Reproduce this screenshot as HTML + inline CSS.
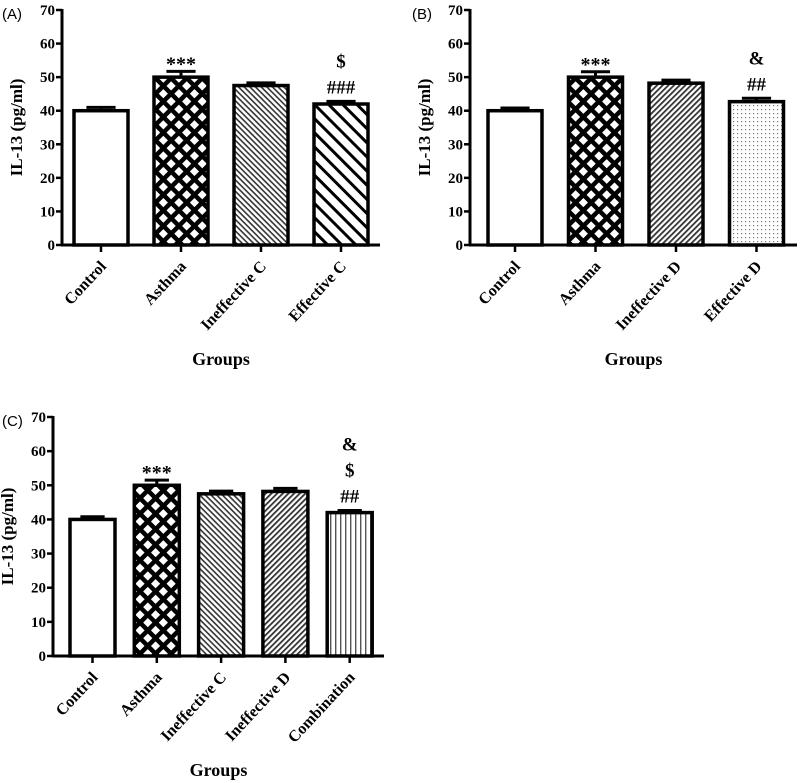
<!DOCTYPE html>
<html><head><meta charset="utf-8"><style>
html,body{margin:0;padding:0;background:#fff;}
svg{display:block;}
text{font-family:"Liberation Serif",serif;font-weight:bold;fill:#000;}
</style></head><body>
<svg id="chart" width="800" height="783" viewBox="0 0 800 783" xmlns="http://www.w3.org/2000/svg">
<defs>
<pattern id="p-cross" patternUnits="userSpaceOnUse" width="11" height="11" patternTransform="rotate(45)">
<rect width="11" height="11" fill="#000"/><rect x="2.5" y="2.5" width="6.5" height="6.5" fill="#fff"/></pattern>
<pattern id="p-dense-back" patternUnits="userSpaceOnUse" width="4" height="4" patternTransform="rotate(45)">
<rect width="4" height="4" fill="#fff"/><rect width="4" height="1.6" fill="#333"/></pattern>
<pattern id="p-wide-back" patternUnits="userSpaceOnUse" width="10" height="10" patternTransform="rotate(45)">
<rect width="10" height="10" fill="#fff"/><rect width="10" height="3" fill="#000"/></pattern>
<pattern id="p-dense-fwd" patternUnits="userSpaceOnUse" width="4" height="4" patternTransform="rotate(-45)">
<rect width="4" height="4" fill="#fff"/><rect width="4" height="1.8" fill="#333"/></pattern>
<pattern id="p-dots" patternUnits="userSpaceOnUse" width="4" height="4">
<rect width="4" height="4" fill="#fff"/><rect x="1" y="1" width="1.2" height="1.2" fill="#777"/></pattern>
<pattern id="p-vert" patternUnits="userSpaceOnUse" width="5" height="5">
<rect width="5" height="5" fill="#fff"/><rect width="1.4" height="5" fill="#555"/></pattern>
</defs>
</svg>
<script>
const yTicks=[0,10,20,30,40,50,60,70];
const catsA=["Control","Asthma","Ineffective C","Effective C"];
const valsA=[40,50,47.5,42];
const errsA=[1,1.7,0.8,0.8];
const notesA=[[],["***"],[],["###","$"]];
const fillsA=["#fff","url(#p-cross)","url(#p-dense-back)","url(#p-wide-back)"];
const catsB=["Control","Asthma","Ineffective D","Effective D"];
const valsB=[40,50,48.2,42.7];
const errsB=[0.8,1.6,0.9,1];
const notesB=[[],["***"],[],["##","&"]];
const fillsB=["#fff","url(#p-cross)","url(#p-dense-fwd)","url(#p-dots)"];
const catsC=["Control","Asthma","Ineffective C","Ineffective D","Combination"];
const valsC=[40,50,47.5,48.2,42];
const errsC=[0.8,1.5,0.8,0.9,0.6];
const notesC=[[],["***"],[],[],["##","$","&"]];
const fillsC=["#fff","url(#p-cross)","url(#p-dense-back)","url(#p-dense-fwd)","url(#p-vert)"];

const NS="http://www.w3.org/2000/svg";
const svg=document.getElementById('chart');
function mk(tag,attrs,parent){const e=document.createElementNS(NS,tag);for(const k in attrs)e.setAttribute(k,attrs[k]);(parent||svg).appendChild(e);return e;}

function panel(cfg,cats,vals,errs,notes,fills){
  const g=mk('g',{});
  
  
  const y=v=>cfg.y0-(v/70)*(cfg.y0-cfg.y70);
  const xc=i=>cfg.x0+i*cfg.pitch;
  const pl=mk('text',{x:cfg.lx,y:cfg.y70+9,'font-size':15,style:'font-family:"Liberation Sans",sans-serif;font-weight:normal'},g);
  pl.textContent='('+cfg.id.toUpperCase()+')';
  
  
  const yt=mk('text',{x:0,y:0,'font-size':17,'text-anchor':'middle',transform:`translate(${cfg.ax-40},${(cfg.y0+cfg.y70)/2}) rotate(-90)`},g);
  yt.textContent='IL-13 (pg/ml)';
  
  
  yTicks.forEach(t=>{
    const ln=mk('line',{x1:cfg.ax-6,x2:cfg.ax,y1:y(t),y2:y(t),stroke:'#000','stroke-width':2.5},g);
    
    
    const tx=mk('text',{x:cfg.ax-7,y:y(t)+5,'font-size':15,'text-anchor':'end'},g);
    tx.textContent=t;
    
    
  });
  const ya=mk('line',{x1:cfg.ax,x2:cfg.ax,y1:cfg.y70-1,y2:cfg.y0+1,stroke:'#000','stroke-width':3},g);
  
  
  cats.forEach((c,i)=>{
    const cx=xc(i), h=cfg.bw;
    const top=y(vals[i]);
    const et=y(vals[i]+errs[i]);
    const eb=mk('line',{x1:cx,x2:cx,y1:top,y2:et,stroke:'#000','stroke-width':3},g);
    
    
    const ec=mk('line',{x1:cx-h*0.27,x2:cx+h*0.27,y1:et,y2:et,stroke:'#000','stroke-width':3},g);
    
    
    const r=mk('rect',{x:cx-h/2,y:top,width:h,height:cfg.y0-top,fill:fills[i],stroke:'#000','stroke-width':3.5},g);
    
    
    notes[i].forEach((n,k)=>{
      const t=mk('text',{x:cx,y:et-8-k*26+(n==='***'?7:0),'font-size':n==='***'?20:19,'text-anchor':'middle'},g);
      t.textContent=n;
      
      
    });
    const tk=mk('line',{x1:cx,x2:cx,y1:cfg.y0,y2:cfg.y0+7,stroke:'#000','stroke-width':2.5},g);
    
    
    const lb=mk('text',{x:0,y:0,'font-size':16,'text-anchor':'end',transform:`translate(${cx+6},${cfg.y0+22}) rotate(-47)`},g);
    lb.textContent=c;
    
    
  });
  const xa=mk('line',{x1:cfg.ax-1,x2:cfg.xEnd,y1:cfg.y0,y2:cfg.y0,stroke:'#000','stroke-width':3},g);
  
  
  const gt=mk('text',{x:(cfg.ax+cfg.xEnd)/2,y:cfg.y0+120,'font-size':18,'text-anchor':'middle'},g);
  gt.textContent='Groups';
  
  
}
panel({id:'a',lx:2,ax:62,y0:245,y70:10,x0:101,pitch:80,bw:54,xEnd:380},catsA,valsA,errsA,notesA,fillsA);
panel({id:'b',lx:412,ax:470,y0:245,y70:10,x0:515,pitch:80.5,bw:54,xEnd:797},catsB,valsB,errsB,notesB,fillsB);
panel({id:'c',lx:2,ax:53,y0:656,y70:417,x0:92.5,pitch:64.3,bw:45,xEnd:384},catsC,valsC,errsC,notesC,fillsC);
</script>
</body></html>
